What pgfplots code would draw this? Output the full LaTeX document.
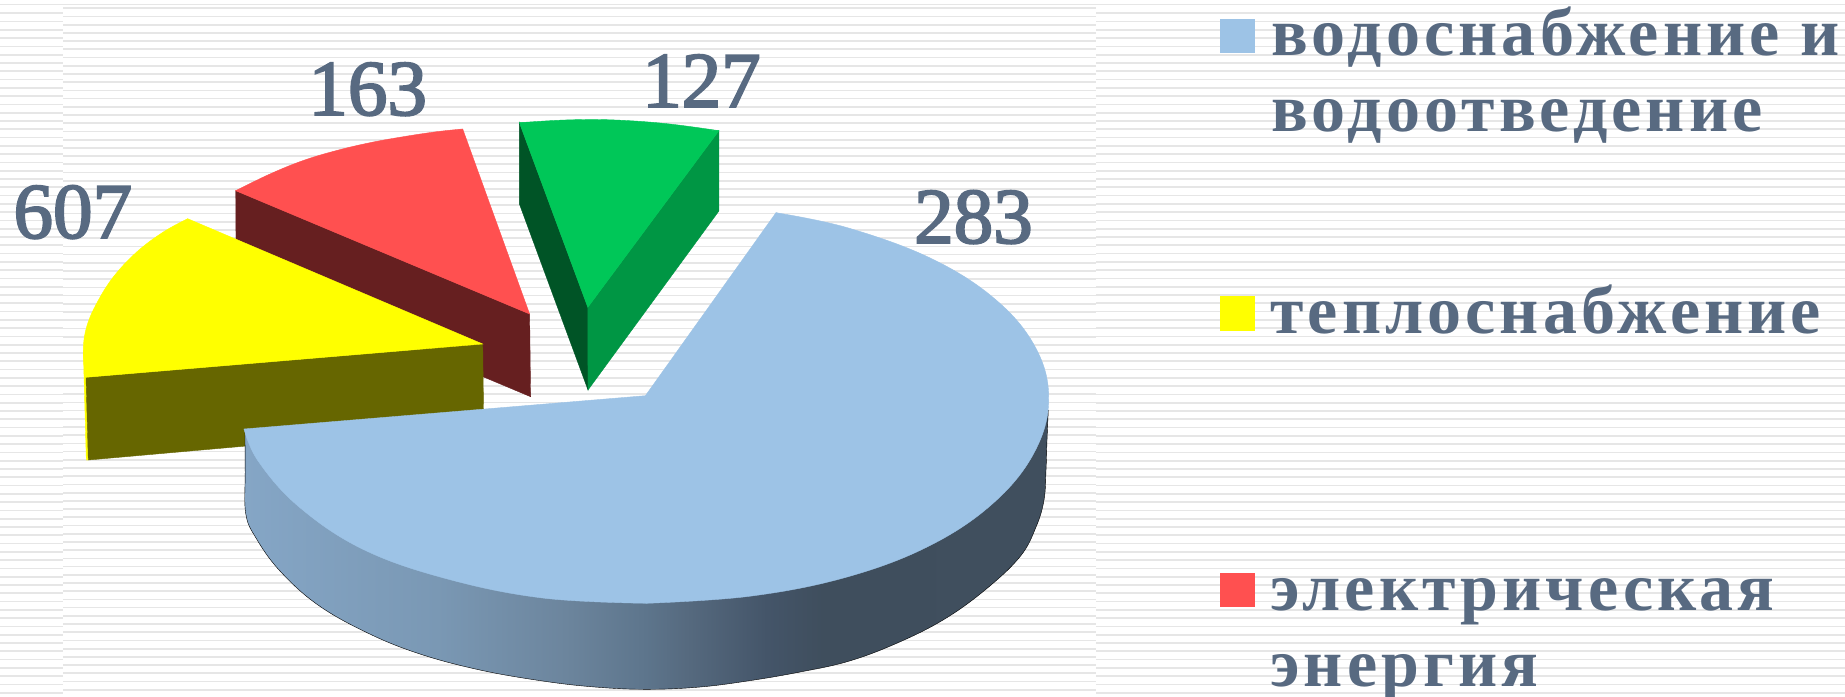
\documentclass[border=0pt]{standalone}
\usepackage{fontspec}
\usepackage{pgfplots}
\pgfplotsset{compat=1.18}
\setmainfont{Liberation Serif}
\newfontfamily\legfont[LetterSpace=6]{Liberation Serif}
\newfontfamily\valf[FakeBold=2.5]{Liberation Serif}
\definecolor{txt}{HTML}{586A81}
\definecolor{stripe}{HTML}{E6E6E6}
\definecolor{pblue}{HTML}{9DC3E6}
\definecolor{pyellow}{HTML}{FFFF00}
\definecolor{polive}{HTML}{666600}
\definecolor{pred}{HTML}{FF5050}
\definecolor{pdred}{HTML}{661F20}
\definecolor{pgreen}{HTML}{00C758}
\definecolor{pmgreen}{HTML}{009644}
\definecolor{pdgreen}{HTML}{005426}
\definecolor{sa}{RGB}{133,166,198}
\definecolor{sb}{RGB}{122,152,180}
\definecolor{sc}{RGB}{108,133,157}
\definecolor{sd}{RGB}{93,117,140}
\definecolor{se}{RGB}{86,106,127}
\definecolor{sf}{RGB}{68,85,105}
\definecolor{sg}{RGB}{63,78,93}
\definecolor{sh}{RGB}{64,79,94}
\pgfdeclarehorizontalshading{blueside}{100bp}{
  color(0bp)=(sa);
  color(25bp)=(sa);
  color(37bp)=(sb);
  color(45bp)=(sc);
  color(50bp)=(sd);
  color(52.5bp)=(se);
  color(57.5bp)=(sf);
  color(61bp)=(sg);
  color(75bp)=(sh);
  color(100bp)=(sh)}
\begin{document}
\begin{tikzpicture}
\useasboundingbox (0,0) rectangle (922.5pt,348pt);
\begin{scope}[x=0.5pt,y=-0.5pt,yshift=348pt]
  \fill[white] (0,0) rectangle (1845,696);
  \foreach \i in {0,...,83} {
    \draw[stripe,line width=0.85pt] (63,{8.3+8.21*\i}) -- (1096,{8.3+8.21*\i});
  }
  \foreach \i in {0,...,82} {
    \draw[stripe,line width=0.85pt] (0,{13.3+8.285*\i}) -- (63,{13.3+8.285*\i});
    \draw[stripe,line width=0.85pt] (1096,{13.3+8.285*\i}) -- (1845,{13.3+8.285*\i});
  }
  \draw[stripe,line width=0.85pt] (0,4.5) -- (1845,4.5);
\end{scope}
\begin{axis}[
  scale only axis, width=922.5pt, height=348pt,
  xmin=0, xmax=1845, ymin=0, ymax=696, y dir=reverse,
  hide axis, clip=false,
  every axis plot/.append style={forget plot, line width=0.2pt},
]
% --- green slice (127)
\addplot[fill=pdgreen,draw=pdgreen] coordinates {(519.4,122.7)(587.8,307.3)(588,390)(519.4,204)} -- cycle;
\addplot[fill=pmgreen,draw=pmgreen] coordinates {(587.8,307.3)(718.9,130.7)(718.9,211)(588,390)} -- cycle;
\addplot[fill=pgreen,draw=pgreen,smooth,tension=0.64] coordinates {(519.4,122.7)(565,120)(610,119.8)(665,123.5)(718.9,130.7)};
\addplot[fill=pgreen,draw=pgreen] coordinates {(519.4,122.7)(610,124)(718.9,130.7)(587.8,307.3)} -- cycle;
% --- red slice (163)
\addplot[fill=pdred,draw=pdred] coordinates {(235.7,190.7)(529.6,314)(530.6,396.7)(236.2,273)} -- cycle;
\addplot[fill=pred,draw=pred,smooth,tension=0.64] coordinates {(235.7,190.7)(270,174)(303.3,160.5)(336.7,150.5)(370,142.7)(403.3,136.7)(436.7,131.7)(462.7,129)};
\addplot[fill=pred,draw=pred] coordinates {(235.7,190.7)(350,155)(462.7,129)(529.6,314)} -- cycle;
% --- yellow slice (607)
\addplot[fill=pyellow,draw=pyellow] coordinates {(83.3,350)(86,377.3)(88.3,460)(86.3,460)} -- cycle;
\addplot[fill=polive,draw=polive] coordinates {(86,377.3)(482.7,344)(483.7,425)(88.3,460)} -- cycle;
\addplot[fill=pyellow,draw=pyellow,smooth,tension=0.64] coordinates {(187.7,218.7)(163.3,232)(136.7,252)(113.3,277)(96.7,303.3)(86.7,326.7)(83.3,350)(86,377.3)};
\addplot[fill=pyellow,draw=pyellow] coordinates {(187.7,218.7)(482.7,344)(86,377.3)(115,300)} -- cycle;
% --- blue slice (283): side
\addplot[shading=blueside,smooth,tension=0.64] coordinates {
  (245,432)(245.2,472)(245.7,513.3)(256,538)(280,571)(318,605)(368.3,633.3)(420,654)(480,670)(542.7,681)(595,687)
  (646.7,689.3)(700,687)(750.7,680.5)(800,672)(847.7,661.5)(895,644)(943,620)(985,590)(1020,556.7)(1036,527)(1044,500)(1046,470)(1047,440)(1048.3,410)};
% --- blue slice: top
\addplot[fill=pblue,draw=pblue,smooth,tension=0.64] coordinates {(776,212.7)(847.7,227.8)(931,258.4)(994.8,298.9)(1035,346.6)(1048.7,398.1)(1035,451)(994.8,501.7)(931,545)(847.7,576.8)(750.7,596.1)(646.7,603.3)};
\addplot[fill=pblue,draw=pblue,smooth,tension=0.64] coordinates {(646.7,603.3)(542.7,598)(445.7,578.5)(362.4,549)(298.6,506.5)(258.4,461.4)(244,429)};
\addplot[fill=pblue,draw=pblue] coordinates {(776,212.7)(645.4,395.7)(244,429)(290,480)(450,570)(600,598)(646.7,603)(850,565)(950,480)(1000,380)(950,290)(850,240)} -- cycle;
% --- legend swatches
\addplot[fill=pblue,draw=pblue] coordinates {(1220.6,19)(1253.9,19)(1253.9,52.4)(1220.6,52.4)} -- cycle;
\addplot[fill=pyellow,draw=pyellow] coordinates {(1220.6,296)(1253.9,296)(1253.9,330)(1220.6,330)} -- cycle;
\addplot[fill=pred,draw=pred] coordinates {(1220.6,573)(1253.9,573)(1253.9,606)(1220.6,606)} -- cycle;
% --- value labels
\def\valfont{\valf\fontsize{39.5pt}{39.5pt}\selectfont}
\node[anchor=base,text=txt,inner sep=0pt,font=\valfont] at (axis cs:72.8,238) {607};
\node[anchor=base,text=txt,inner sep=0pt,font=\valfont] at (axis cs:367.7,115) {163};
\node[anchor=base,text=txt,inner sep=0pt,font=\valfont] at (axis cs:701.5,107) {127};
\node[anchor=base,text=txt,inner sep=0pt,font=\valfont] at (axis cs:973.5,243) {283};
% --- legend texts
\def\lf{\legfont\bfseries\fontsize{34pt}{37.75pt}\selectfont}
\node[anchor=base west,text=txt,inner sep=0pt,font=\lf] at (axis cs:1271,55.5) {водоснабжение и};
\node[anchor=base west,text=txt,inner sep=0pt,font=\lf] at (axis cs:1271,131) {водоотведение};
\node[anchor=base west,text=txt,inner sep=0pt,font=\lf] at (axis cs:1270,333) {теплоснабжение};
\node[anchor=base west,text=txt,inner sep=0pt,font=\lf] at (axis cs:1270,610) {электрическая};
\node[anchor=base west,text=txt,inner sep=0pt,font=\lf] at (axis cs:1270,686) {энергия};
\end{axis}
\end{tikzpicture}
\end{document}
